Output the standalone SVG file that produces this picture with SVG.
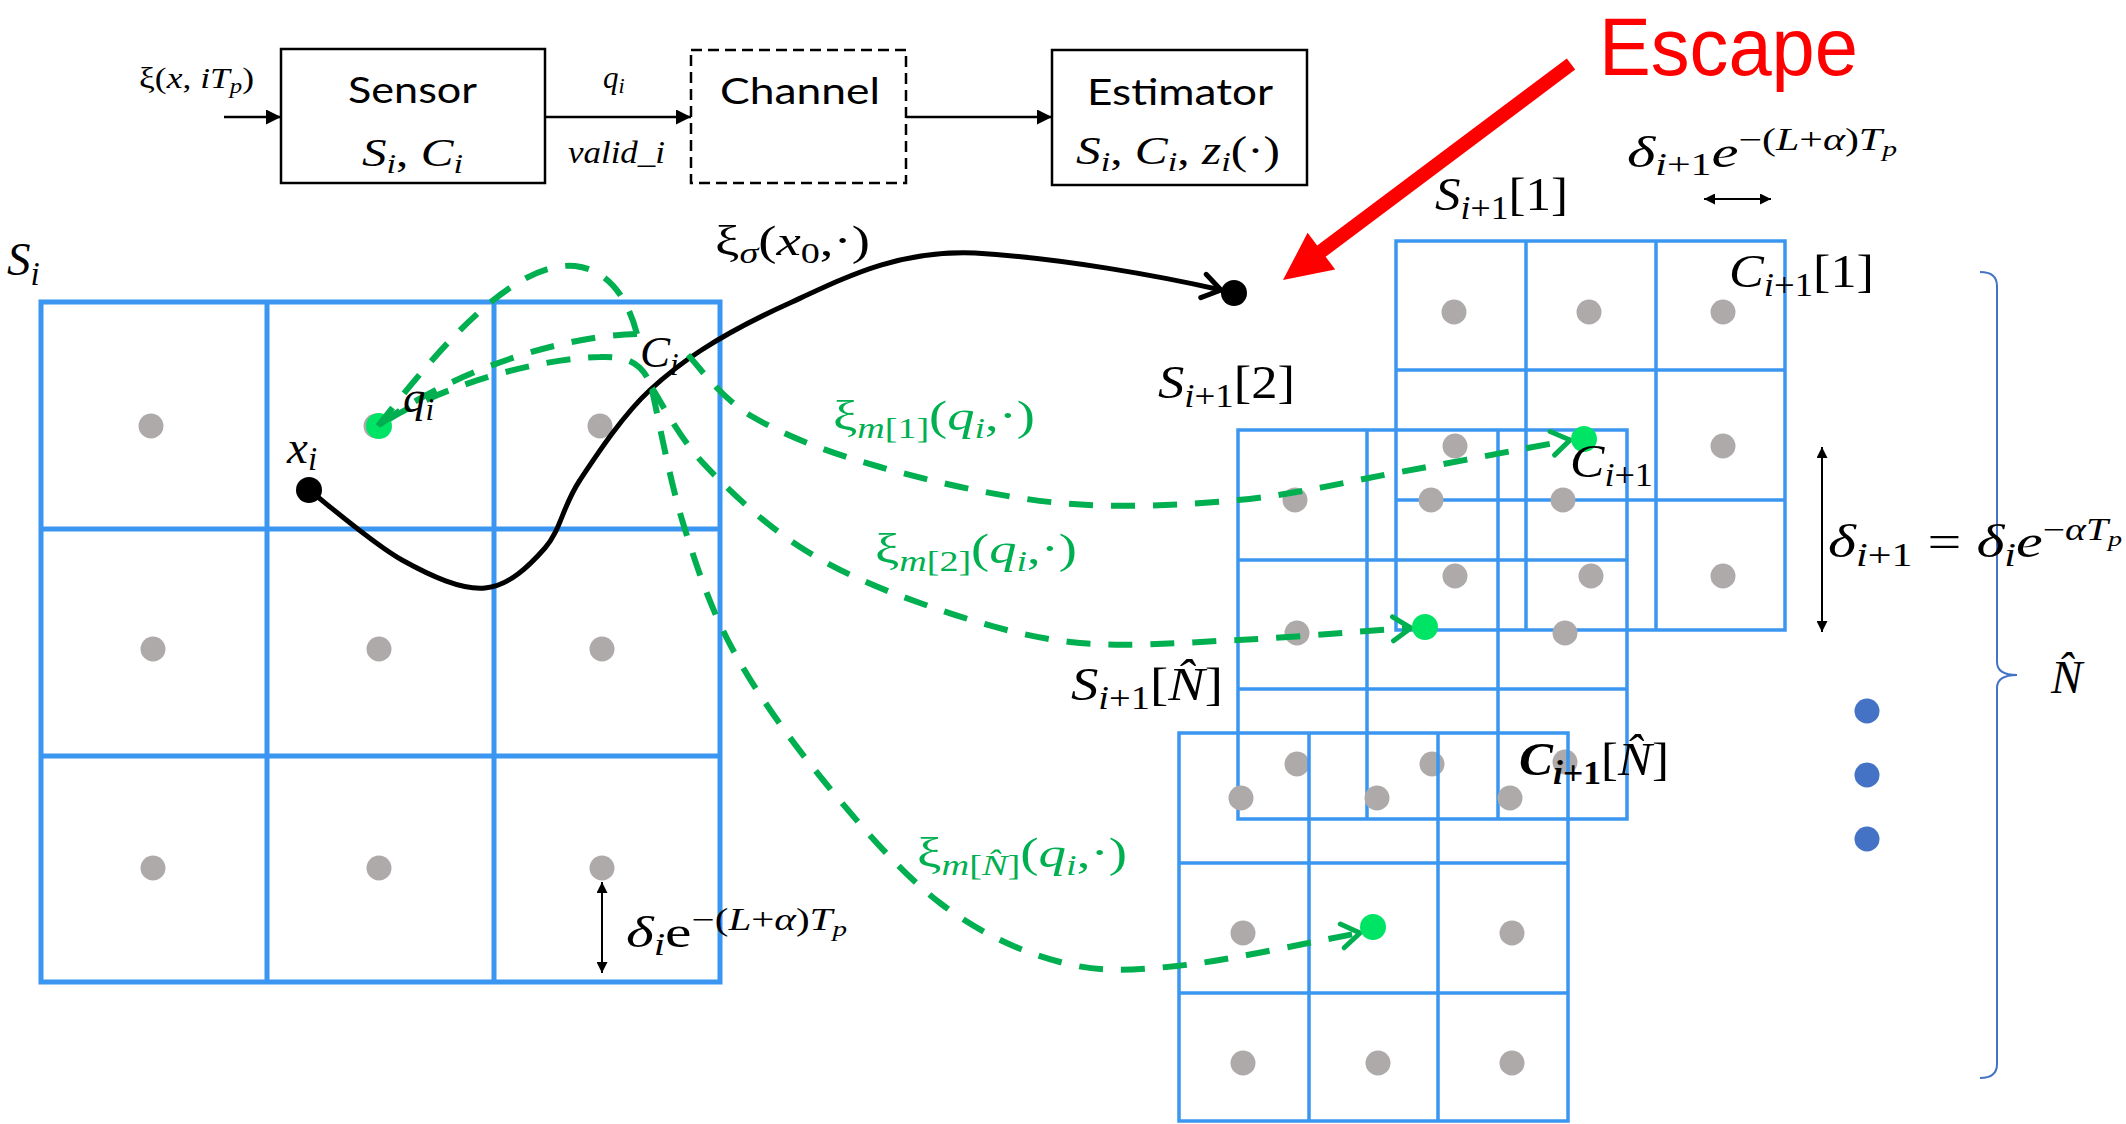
<svg xmlns="http://www.w3.org/2000/svg" width="2126" height="1124" viewBox="0 0 2126 1124">
<defs>
<style>
.m{font-family:"Liberation Serif","DejaVu Serif",serif;fill:#000}
.i{font-style:italic}
.g{fill:#00B050}
.s{font-family:Lato,"Liberation Sans",sans-serif;fill:#000}
.box{fill:none;stroke:#000;stroke-width:2.5}
.gridm{fill:none;stroke:#3A96F0;stroke-width:5}
.grid{fill:none;stroke:#3A96F0;stroke-width:3.5}
.dot{fill:#AEAAAA}
.gdot{fill:#00E466}
.bdot{fill:#4472C4}
.gc{fill:none;stroke:#00B050;stroke-width:6;stroke-dasharray:24 18}
.arr{fill:none;stroke:#000;stroke-width:2.5}
</style>
<marker id="ah" viewBox="0 0 10 10" refX="10" refY="5" markerWidth="16" markerHeight="15" markerUnits="userSpaceOnUse" orient="auto-start-reverse"><path d="M0,0 L10,5 L0,10 z" fill="#000"/></marker>
<marker id="ah2" viewBox="0 0 10 10" refX="10" refY="5" markerWidth="14" markerHeight="11" markerUnits="userSpaceOnUse" orient="auto-start-reverse"><path d="M0,0 L10,5 L0,10 z" fill="#000"/></marker>
<marker id="vg" viewBox="-22 -16 24 32" refX="0" refY="0" markerWidth="24" markerHeight="32" markerUnits="userSpaceOnUse" orient="auto" overflow="visible"><path d="M-18,-12 L0,0 L-18,12" fill="none" stroke="#00B050" stroke-width="5" stroke-linecap="round"/></marker>
<marker id="vb" viewBox="-22 -16 24 32" refX="0" refY="0" markerWidth="24" markerHeight="32" markerUnits="userSpaceOnUse" orient="auto" overflow="visible"><path d="M-18,-12 L0,0 L-18,12" fill="none" stroke="#000" stroke-width="5" stroke-linecap="round"/></marker>
</defs>
<rect width="2126" height="1124" fill="#fff"/>

<!-- top block diagram -->
<g id="sensor">
<rect class="box" x="281" y="49" width="264" height="134"/>
<text class="s" x="348" y="103" font-size="37" textLength="129" lengthAdjust="spacingAndGlyphs">Sensor</text>
<text class="m" x="362" y="166" font-size="40" textLength="101" lengthAdjust="spacingAndGlyphs"><tspan class="i">S</tspan><tspan class="i" font-size="28" dy="7">i</tspan><tspan dy="-7">, </tspan><tspan class="i">C</tspan><tspan class="i" font-size="28" dy="7">i</tspan></text>
</g>
<g id="channel">
<rect class="box" x="691" y="50" width="215" height="133" stroke-dasharray="11 6"/>
<text class="s" x="720" y="104" font-size="37" textLength="160" lengthAdjust="spacingAndGlyphs">Channel</text>
</g>
<g id="estimator">
<rect class="box" x="1052" y="50" width="255" height="135"/>
<text class="s" x="1087" y="105" font-size="37" textLength="186" lengthAdjust="spacingAndGlyphs">Estimator</text>
<text class="m" x="1076" y="164" font-size="40" textLength="204" lengthAdjust="spacingAndGlyphs"><tspan class="i">S</tspan><tspan class="i" font-size="28" dy="7">i</tspan><tspan dy="-7">, </tspan><tspan class="i">C</tspan><tspan class="i" font-size="28" dy="7">i</tspan><tspan dy="-7">, </tspan><tspan class="i">z</tspan><tspan class="i" font-size="28" dy="7">i</tspan><tspan dy="-7">(·)</tspan></text>
</g>
<g id="top-labels">
<text class="m" x="139" y="88" font-size="30" textLength="115" lengthAdjust="spacingAndGlyphs">ξ(<tspan class="i">x</tspan>, <tspan class="i">iT</tspan><tspan class="i" font-size="21" dy="5">p</tspan><tspan dy="-5">)</tspan></text>
<text class="m" x="603" y="88" font-size="31"><tspan class="i">q</tspan><tspan class="i" font-size="22" dy="5">i</tspan></text>
<text class="m i" x="568" y="163" font-size="31" textLength="97" lengthAdjust="spacingAndGlyphs">valid_i</text>
</g>

<!-- Escape -->
<g id="escape">
<text x="1599" y="75" font-family="'Liberation Sans', Arial, sans-serif" font-size="82" fill="#FF0000" textLength="259" lengthAdjust="spacingAndGlyphs">Escape</text>
<polygon points="1566.8,58.4 1575.2,69.6 1325.6,256.8 1335.2,269.6 1283,280 1307.6,232.8 1317.2,245.6" fill="#FF0000"/>
</g>

<!-- grid S_i -->
<g id="grid-Si">
<path class="gridm" d="M41,302 H720 V982 H41 Z M267,302 V982 M494,302 V982 M41,529 H720 M41,756 H720"/>
<circle class="dot" cx="151" cy="426" r="12.5"/><circle class="dot" cx="376" cy="426" r="12.5"/><circle class="dot" cx="600" cy="426" r="12.5"/>
<circle class="dot" cx="153" cy="649" r="12.5"/><circle class="dot" cx="379" cy="649" r="12.5"/><circle class="dot" cx="602" cy="649" r="12.5"/>
<circle class="dot" cx="153" cy="868" r="12.5"/><circle class="dot" cx="379" cy="868" r="12.5"/><circle class="dot" cx="602" cy="868" r="12.5"/>
<circle class="gdot" cx="379" cy="426" r="13"/>
<text class="m" x="7" y="275" font-size="47"><tspan class="i">S</tspan><tspan class="i" font-size="33" dy="10">i</tspan></text>
</g>

<!-- grid S_{i+1}[1] -->
<g id="grid-S1">
<path class="grid" d="M1396,241 H1785 V630 H1396 Z M1526,241 V630 M1656,241 V630 M1396,370 H1785 M1396,500 H1785"/>
<circle class="dot" cx="1454" cy="312" r="12.5"/><circle class="dot" cx="1589" cy="312" r="12.5"/><circle class="dot" cx="1723" cy="312" r="12.5"/>
<circle class="dot" cx="1455" cy="446" r="12.5"/><circle class="dot" cx="1723" cy="446" r="12.5"/>
<circle class="dot" cx="1455" cy="576" r="12.5"/><circle class="dot" cx="1591" cy="576" r="12.5"/><circle class="dot" cx="1723" cy="576" r="12.5"/>
</g>
<!-- grid S_{i+1}[2] -->
<g id="grid-S2">
<path class="grid" d="M1238,430 H1627 V819 H1238 Z M1367,430 V819 M1498,430 V819 M1238,560 H1627 M1238,689 H1627"/>
<circle class="dot" cx="1295" cy="500" r="12.5"/><circle class="dot" cx="1431" cy="500" r="12.5"/><circle class="dot" cx="1563" cy="500" r="12.5"/>
<circle class="dot" cx="1297" cy="633" r="12.5"/><circle class="dot" cx="1565" cy="633" r="12.5"/>
<circle class="dot" cx="1297" cy="764" r="12.5"/><circle class="dot" cx="1432" cy="764" r="12.5"/><circle class="dot" cx="1565" cy="762" r="12.5"/>
</g>
<!-- grid S_{i+1}[N] -->
<g id="grid-SN">
<path class="grid" d="M1179,733 H1568 V1121 H1179 Z M1309,733 V1121 M1438,733 V1121 M1179,863 H1568 M1179,993 H1568"/>
<circle class="dot" cx="1241" cy="798" r="12.5"/><circle class="dot" cx="1377" cy="798" r="12.5"/><circle class="dot" cx="1510" cy="798" r="12.5"/>
<circle class="dot" cx="1243" cy="933" r="12.5"/><circle class="dot" cx="1512" cy="933" r="12.5"/>
<circle class="dot" cx="1243" cy="1063" r="12.5"/><circle class="dot" cx="1378" cy="1063" r="12.5"/><circle class="dot" cx="1512" cy="1063" r="12.5"/>
</g>

<!-- connectors -->
<g id="connectors">
<line class="arr" x1="224" y1="117" x2="281" y2="117" marker-end="url(#ah)"/>
<line class="arr" x1="545" y1="117" x2="691" y2="117" marker-end="url(#ah)"/>
<line class="arr" x1="906" y1="117" x2="1052" y2="117" marker-end="url(#ah)"/>
<path d="M309,490 C324.5,501.7 372.7,543.7 402,560 C431.3,576.3 461.2,590 485,588 C508.8,586 529.2,566 545,548 C560.8,530 562.5,506.3 580,480 C597.5,453.7 623.8,414 650,390 C676,366 712,338 792,302 C850,275 900,250 975,253 C1060,258 1160,276 1221,290" fill="none" stroke="#000" stroke-width="5" marker-end="url(#vb)"/>
<path class="gc" d="M637,334 C628,300 610,270 575,266 C510,260 430,360 378,426"/>
<path class="gc" d="M637,334 C540,337 430,385 378,426"/>
<path class="gc" d="M647,377 C638,362 625,356 600,357 C540,358 440,385 378,426"/>
<path class="gc" d="M688,355 C697,364 720,397.8 753,417 C786,436.2 828.8,452.7 880,467 C931.2,481.3 1000.3,497.5 1060,503 C1119.7,508.5 1181.3,505.2 1238,500 C1294.7,494.8 1344.7,482 1400,472 C1455.3,462 1541.7,445.3 1570,440" marker-end="url(#vg)"/>
<path class="gc" d="M652,388 C660.5,400.5 678.3,436.5 703,463 C727.7,489.5 763.8,523.7 800,547 C836.2,570.3 875,587.2 920,603 C965,618.8 1017,635.8 1070,642 C1123,648.2 1181,642.5 1238,640 C1295,637.5 1383,629.2 1411,628" marker-end="url(#vg)"/>
<path class="gc" d="M652,390 C657.2,412.2 669.5,479.7 683,523 C696.5,566.3 709.7,607.2 733,650 C756.3,692.8 788.5,737.8 823,780 C857.5,822.2 900.5,872.7 940,903 C979.5,933.3 1020.5,951.5 1060,962 C1099.5,972.5 1126.7,971 1177,966 C1227.3,961 1331.2,937.7 1360,933" marker-end="url(#vg)"/>
<line x1="602" y1="882" x2="602" y2="973" stroke="#000" stroke-width="2" marker-start="url(#ah2)" marker-end="url(#ah2)"/>
<line x1="1704" y1="199" x2="1771" y2="199" stroke="#000" stroke-width="2" marker-start="url(#ah2)" marker-end="url(#ah2)"/>
<line x1="1822" y1="447" x2="1822" y2="632" stroke="#000" stroke-width="2" marker-start="url(#ah2)" marker-end="url(#ah2)"/>
</g>

<!-- points -->
<g id="points">
<circle cx="309" cy="490" r="13" fill="#000"/>
<circle cx="1234" cy="293" r="13" fill="#000"/>
<circle class="gdot" cx="1584" cy="439" r="13"/>
<circle class="gdot" cx="1425" cy="627" r="13"/>
<circle class="gdot" cx="1373" cy="927" r="13"/>
<circle class="bdot" cx="1867" cy="711" r="12.5"/>
<circle class="bdot" cx="1867" cy="775" r="12.5"/>
<circle class="bdot" cx="1867" cy="839" r="12.5"/>
</g>

<!-- brace -->
<g id="brace">
<path d="M1980,272 Q1997,272 1997,286 L1997,662 Q1997,675 2017,675 Q1997,675 1997,688 L1997,1064 Q1997,1078 1980,1078" fill="none" stroke="#4472C4" stroke-width="2"/>
<text class="m" x="2051" y="693" font-size="47"><tspan class="i">N̂</tspan></text>
</g>

<!-- labels -->
<g id="labels">
<text class="m" x="287" y="463" font-size="47"><tspan class="i">x</tspan><tspan class="i" font-size="33" dy="7">i</tspan></text>
<text class="m" x="403" y="412" font-size="45"><tspan class="i">q</tspan><tspan class="i" font-size="31" dy="8">i</tspan></text>
<text class="m" x="640" y="367" font-size="45"><tspan class="i">C</tspan><tspan class="i" font-size="31" dy="8">i</tspan></text>
<text class="m" x="715" y="255" font-size="43" textLength="155" lengthAdjust="spacingAndGlyphs">ξ<tspan class="i" font-size="30" dy="8">σ</tspan><tspan dy="-8">(</tspan><tspan class="i">x</tspan><tspan font-size="30" dy="8">0</tspan><tspan dy="-8">,·)</tspan></text>
<text class="m g" x="833" y="430" font-size="43" textLength="202" lengthAdjust="spacingAndGlyphs">ξ<tspan class="i" font-size="30" dy="8">m</tspan><tspan font-size="30">[1]</tspan><tspan dy="-8">(</tspan><tspan class="i">q</tspan><tspan class="i" font-size="30" dy="8">i</tspan><tspan dy="-8">,·)</tspan></text>
<text class="m g" x="875" y="563" font-size="43" textLength="202" lengthAdjust="spacingAndGlyphs">ξ<tspan class="i" font-size="30" dy="8">m</tspan><tspan font-size="30">[2]</tspan><tspan dy="-8">(</tspan><tspan class="i">q</tspan><tspan class="i" font-size="30" dy="8">i</tspan><tspan dy="-8">,·)</tspan></text>
<text class="m g" x="917" y="867" font-size="43" textLength="210" lengthAdjust="spacingAndGlyphs">ξ<tspan class="i" font-size="30" dy="8">m</tspan><tspan font-size="30">[</tspan><tspan class="i" font-size="30">N̂</tspan><tspan font-size="30">]</tspan><tspan dy="-8">(</tspan><tspan class="i">q</tspan><tspan class="i" font-size="30" dy="8">i</tspan><tspan dy="-8">,·)</tspan></text>
<text class="m" x="626" y="947" font-size="45" textLength="221" lengthAdjust="spacingAndGlyphs"><tspan class="i">δ</tspan><tspan class="i" font-size="31" dy="8">i</tspan><tspan dy="-8">e</tspan><tspan font-size="31" dy="-17">−(</tspan><tspan class="i" font-size="31">L</tspan><tspan font-size="31">+</tspan><tspan class="i" font-size="31">α</tspan><tspan font-size="31">)</tspan><tspan class="i" font-size="31">T</tspan><tspan class="i" font-size="22" dy="6">p</tspan></text>
<text class="m" x="1435" y="210" font-size="47" textLength="133" lengthAdjust="spacingAndGlyphs"><tspan class="i">S</tspan><tspan font-size="33" dy="9"><tspan class="i">i</tspan>+1</tspan><tspan dy="-9">[1]</tspan></text>
<text class="m" x="1627" y="167" font-size="45" textLength="270" lengthAdjust="spacingAndGlyphs"><tspan class="i">δ</tspan><tspan font-size="31" dy="8"><tspan class="i">i</tspan>+1</tspan><tspan class="i" dy="-8">e</tspan><tspan font-size="31" dy="-17">−(</tspan><tspan class="i" font-size="31">L</tspan><tspan font-size="31">+</tspan><tspan class="i" font-size="31">α</tspan><tspan font-size="31">)</tspan><tspan class="i" font-size="31">T</tspan><tspan class="i" font-size="22" dy="6">p</tspan></text>
<text class="m" x="1729" y="287" font-size="47" textLength="145" lengthAdjust="spacingAndGlyphs"><tspan class="i">C</tspan><tspan font-size="33" dy="9"><tspan class="i">i</tspan>+1</tspan><tspan dy="-9">[1]</tspan></text>
<text class="m" x="1158" y="398" font-size="47" textLength="137" lengthAdjust="spacingAndGlyphs"><tspan class="i">S</tspan><tspan font-size="33" dy="9"><tspan class="i">i</tspan>+1</tspan><tspan dy="-9">[2]</tspan></text>
<text class="m" x="1570" y="477" font-size="47" textLength="83" lengthAdjust="spacingAndGlyphs"><tspan class="i">C</tspan><tspan font-size="33" dy="9"><tspan class="i">i</tspan>+1</tspan></text>
<text class="m" x="1828" y="557" font-size="47" textLength="294" lengthAdjust="spacingAndGlyphs"><tspan class="i">δ</tspan><tspan font-size="33" dy="9"><tspan class="i">i</tspan>+1</tspan><tspan dy="-9"> = </tspan><tspan class="i">δ</tspan><tspan class="i" font-size="33" dy="9">i</tspan><tspan class="i" dy="-9">e</tspan><tspan font-size="31" dy="-17">−</tspan><tspan class="i" font-size="31">αT</tspan><tspan class="i" font-size="22" dy="6">p</tspan></text>
<text class="m" x="1071" y="700" font-size="47" textLength="152" lengthAdjust="spacingAndGlyphs"><tspan class="i">S</tspan><tspan font-size="33" dy="9"><tspan class="i">i</tspan>+1</tspan><tspan dy="-9">[</tspan><tspan class="i">N̂</tspan><tspan>]</tspan></text>
<text class="m" x="1519" y="775" font-size="47" textLength="150" lengthAdjust="spacingAndGlyphs"><tspan class="i" font-weight="bold">C</tspan><tspan font-size="33" dy="9" font-weight="bold"><tspan class="i">i</tspan>+1</tspan><tspan dy="-9">[</tspan><tspan class="i">N̂</tspan><tspan>]</tspan></text>
</g>
</svg>
